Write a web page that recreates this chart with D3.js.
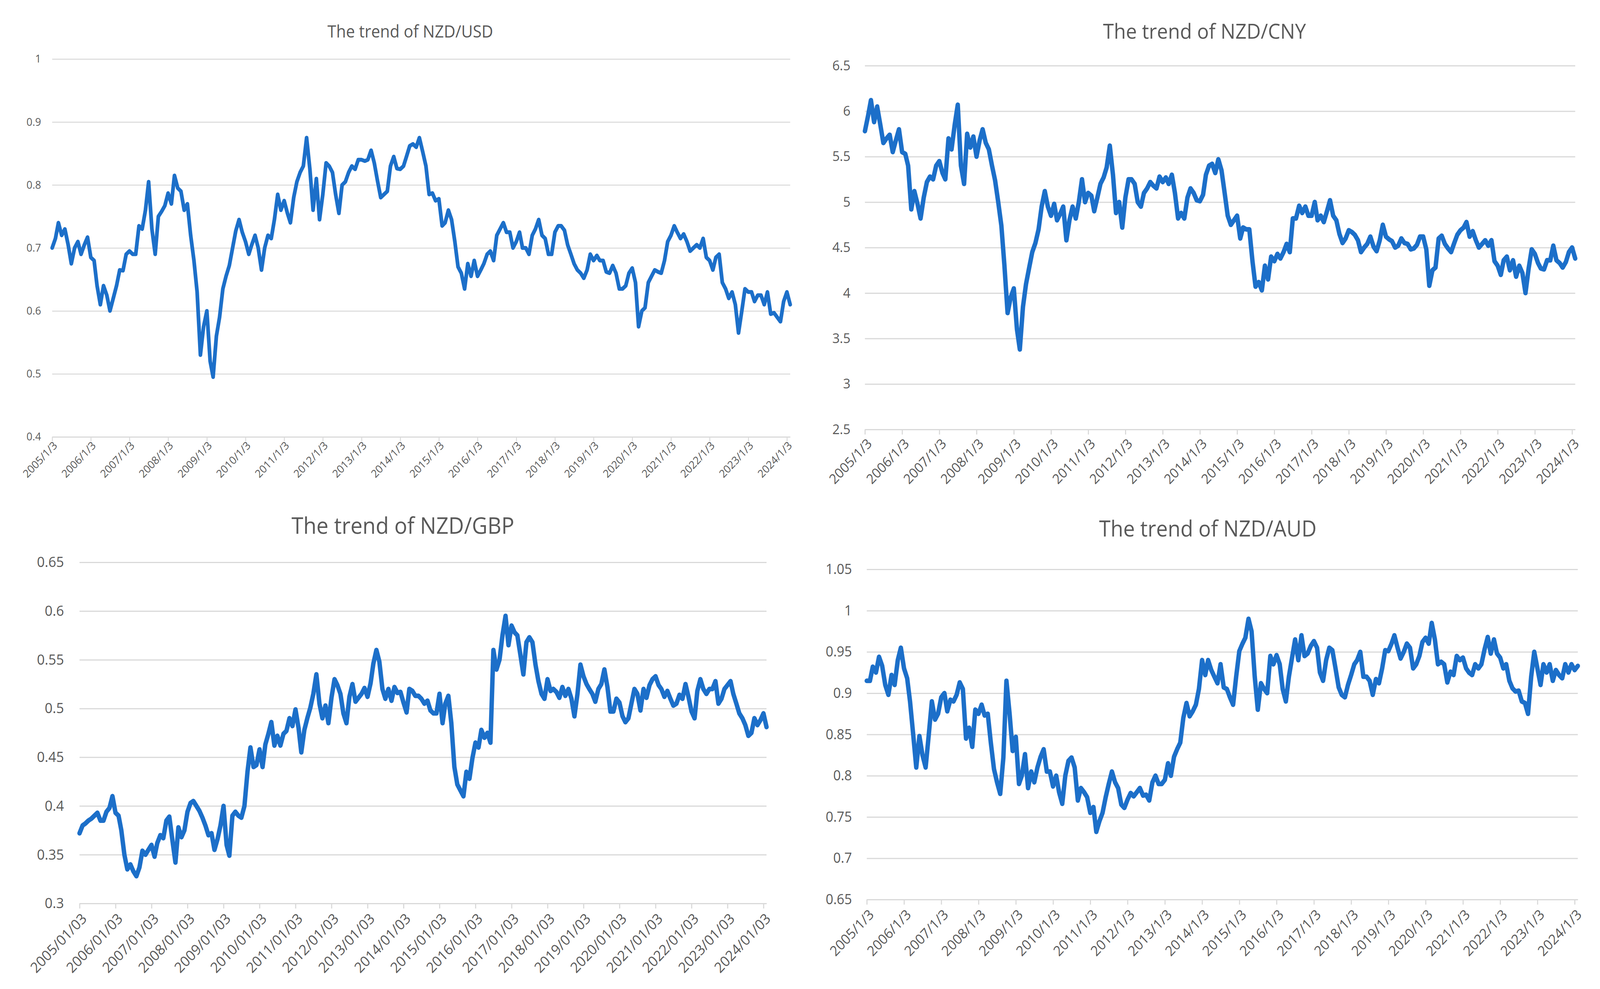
<!DOCTYPE html>
<html>
<head>
<meta charset="utf-8">
<script src="https://cdn.jsdelivr.net/npm/d3@7"></script>
<style>
  html, body { margin: 0; padding: 0; background: #ffffff; overflow: hidden; }
  svg { display: block; }
</style>
</head>
<body>
<div id="chart"></div>
<script>
// monthly readings, 2005/1/3 .. 2024/2/3
var usdValues = [
    0.70, 0.715, 0.74, 0.72, 0.73, 0.705, 0.675, 0.70, 0.71, 0.69, 0.705, 0.717,
    0.685, 0.68, 0.64, 0.61, 0.64, 0.625, 0.60, 0.62, 0.64, 0.665, 0.664, 0.69,
    0.695, 0.69, 0.69, 0.735, 0.73, 0.76, 0.805, 0.73, 0.69, 0.75, 0.758, 0.767,
    0.787, 0.77, 0.815, 0.795, 0.79, 0.76, 0.77, 0.72, 0.68, 0.63, 0.53, 0.575,
    0.60, 0.52, 0.495, 0.56, 0.59, 0.635, 0.655, 0.672, 0.70, 0.727, 0.745, 0.725,
    0.71, 0.69, 0.705, 0.72, 0.70, 0.665, 0.70, 0.72, 0.715, 0.745, 0.785, 0.76,
    0.775, 0.755, 0.74, 0.78, 0.805, 0.82, 0.83, 0.875, 0.825, 0.76, 0.81, 0.745,
    0.785, 0.835, 0.83, 0.82, 0.785, 0.755, 0.80, 0.805, 0.82, 0.83, 0.825, 0.84,
    0.84, 0.838, 0.84, 0.855, 0.835, 0.806, 0.78, 0.785, 0.79, 0.83, 0.845, 0.826,
    0.825, 0.83, 0.845, 0.862, 0.865, 0.86, 0.875, 0.853, 0.83, 0.785, 0.787, 0.775,
    0.778, 0.735, 0.74, 0.76, 0.745, 0.71, 0.67, 0.66, 0.635, 0.675, 0.655, 0.68,
    0.655, 0.665, 0.675, 0.69, 0.695, 0.68, 0.72, 0.73, 0.74, 0.725, 0.725, 0.70,
    0.71, 0.725, 0.70, 0.70, 0.69, 0.72, 0.73, 0.745, 0.72, 0.715, 0.69, 0.69,
    0.725, 0.735, 0.735, 0.728, 0.705, 0.69, 0.675, 0.665, 0.66, 0.652, 0.665, 0.69,
    0.68, 0.688, 0.68, 0.68, 0.662, 0.66, 0.672, 0.66, 0.635, 0.635, 0.64, 0.66,
    0.668, 0.645, 0.575, 0.60, 0.605, 0.645, 0.655, 0.665, 0.662, 0.66, 0.68, 0.71,
    0.72, 0.735, 0.725, 0.715, 0.722, 0.71, 0.695, 0.70, 0.705, 0.70, 0.715, 0.685,
    0.68, 0.665, 0.685, 0.69, 0.645, 0.635, 0.62, 0.63, 0.61, 0.565, 0.60, 0.635,
    0.63, 0.63, 0.615, 0.625, 0.625, 0.61, 0.63, 0.595, 0.597, 0.59, 0.583, 0.615,
    0.63, 0.61
];

var cnyValues = [
    5.78, 5.95, 6.12, 5.88, 6.05, 5.85, 5.65, 5.70, 5.74, 5.55, 5.68, 5.80,
    5.55, 5.53, 5.40, 4.92, 5.12, 4.98, 4.82, 5.05, 5.22, 5.28, 5.25, 5.40,
    5.45, 5.32, 5.25, 5.70, 5.58, 5.85, 6.07, 5.40, 5.20, 5.75, 5.60, 5.72,
    5.50, 5.68, 5.80, 5.65, 5.58, 5.40, 5.24, 5.00, 4.74, 4.30, 3.78, 3.95,
    4.05, 3.60, 3.38, 3.85, 4.10, 4.28, 4.45, 4.55, 4.70, 4.95, 5.12, 4.95,
    4.85, 4.98, 4.80, 4.87, 4.95, 4.58, 4.80, 4.95, 4.82, 5.00, 5.25, 5.00,
    5.10, 5.07, 4.90, 5.05, 5.20, 5.27, 5.38, 5.62, 5.30, 4.88, 5.00, 4.72,
    5.05, 5.25, 5.25, 5.20, 5.00, 4.95, 5.10, 5.15, 5.22, 5.18, 5.15, 5.28,
    5.22, 5.27, 5.20, 5.30, 5.10, 4.82, 4.88, 4.82, 5.05, 5.15, 5.10, 5.02,
    5.01, 5.08, 5.30, 5.40, 5.42, 5.32, 5.47, 5.35, 5.10, 4.85, 4.75, 4.80,
    4.85, 4.60, 4.72, 4.70, 4.70, 4.35, 4.07, 4.12, 4.03, 4.30, 4.15, 4.40,
    4.35, 4.43, 4.38, 4.45, 4.54, 4.45, 4.82, 4.82, 4.96, 4.88, 4.95, 4.85,
    4.85, 5.00, 4.80, 4.85, 4.78, 4.90, 5.02, 4.85, 4.80, 4.65, 4.55, 4.60,
    4.69, 4.67, 4.64, 4.58, 4.45, 4.50, 4.54, 4.62, 4.51, 4.46, 4.58, 4.75,
    4.62, 4.59, 4.57, 4.50, 4.52, 4.60, 4.55, 4.54, 4.48, 4.49, 4.53, 4.62,
    4.62, 4.48, 4.08, 4.25, 4.28, 4.60, 4.63, 4.54, 4.49, 4.45, 4.55, 4.64,
    4.69, 4.72, 4.78, 4.62, 4.68, 4.58, 4.50, 4.54, 4.58, 4.52, 4.58, 4.35,
    4.30, 4.20, 4.36, 4.40, 4.25, 4.36, 4.18, 4.30, 4.22, 4.00, 4.27, 4.48,
    4.43, 4.33, 4.27, 4.26, 4.36, 4.36, 4.52, 4.36, 4.33, 4.28, 4.34, 4.45,
    4.50, 4.38
];

var gbpValues = [
    0.372, 0.38, 0.382, 0.385, 0.387, 0.39, 0.393, 0.385, 0.385, 0.394, 0.398, 0.41,
    0.393, 0.39, 0.375, 0.35, 0.335, 0.34, 0.333, 0.328, 0.337, 0.354, 0.35, 0.355,
    0.36, 0.348, 0.362, 0.37, 0.367, 0.385, 0.389, 0.365, 0.342, 0.378, 0.368, 0.375,
    0.394, 0.403, 0.405, 0.40, 0.395, 0.388, 0.38, 0.37, 0.372, 0.355, 0.366, 0.38,
    0.40, 0.36, 0.349, 0.39, 0.394, 0.39, 0.388, 0.40, 0.435, 0.46, 0.44, 0.442,
    0.458, 0.44, 0.463, 0.474, 0.486, 0.462, 0.472, 0.462, 0.474, 0.477, 0.49, 0.482,
    0.499, 0.48, 0.455, 0.478, 0.49, 0.501, 0.515, 0.535, 0.505, 0.49, 0.503, 0.485,
    0.511, 0.53, 0.524, 0.515, 0.495, 0.485, 0.512, 0.525, 0.507, 0.511, 0.515, 0.521,
    0.512, 0.526, 0.546, 0.56, 0.548, 0.52, 0.51, 0.52, 0.508, 0.522, 0.516, 0.517,
    0.506, 0.496, 0.52, 0.518, 0.513, 0.513, 0.51, 0.505, 0.508, 0.498, 0.495, 0.495,
    0.515, 0.485, 0.505, 0.513, 0.485, 0.44, 0.422, 0.416, 0.41, 0.435, 0.428, 0.449,
    0.465, 0.46, 0.478, 0.47, 0.475, 0.465, 0.56, 0.54, 0.55, 0.575, 0.595, 0.565,
    0.585, 0.578, 0.575, 0.555, 0.535, 0.568, 0.573, 0.568, 0.545, 0.528, 0.515, 0.51,
    0.53, 0.518, 0.52, 0.517, 0.511, 0.522, 0.513, 0.52, 0.51, 0.492, 0.515, 0.545,
    0.533, 0.525, 0.52, 0.515, 0.507, 0.52, 0.525, 0.54, 0.522, 0.497, 0.497, 0.51,
    0.506, 0.492, 0.486, 0.49, 0.505, 0.52, 0.515, 0.498, 0.52, 0.511, 0.524, 0.53,
    0.533, 0.524, 0.52, 0.512, 0.518, 0.51, 0.503, 0.505, 0.514, 0.51, 0.525, 0.512,
    0.497, 0.49, 0.518, 0.53, 0.52, 0.515, 0.52, 0.52, 0.528, 0.505, 0.51, 0.52,
    0.524, 0.528, 0.515, 0.505, 0.495, 0.49, 0.483, 0.472, 0.475, 0.49, 0.483, 0.488,
    0.495, 0.481
];

var audValues = [
    0.915, 0.915, 0.932, 0.925, 0.944, 0.933, 0.91, 0.898, 0.922, 0.91, 0.94, 0.955,
    0.93, 0.918, 0.89, 0.85, 0.81, 0.848, 0.825, 0.81, 0.85, 0.89, 0.868, 0.875,
    0.895, 0.90, 0.878, 0.892, 0.89, 0.898, 0.913, 0.905, 0.845, 0.858, 0.835, 0.88,
    0.875, 0.886, 0.873, 0.875, 0.84, 0.808, 0.792, 0.778, 0.822, 0.915, 0.875, 0.83,
    0.847, 0.79, 0.80, 0.826, 0.785, 0.805, 0.792, 0.81, 0.823, 0.832, 0.805, 0.805,
    0.787, 0.80, 0.78, 0.766, 0.80, 0.818, 0.822, 0.81, 0.77, 0.785, 0.78, 0.774,
    0.755, 0.762, 0.732, 0.745, 0.755, 0.774, 0.79, 0.805, 0.792, 0.785, 0.765, 0.761,
    0.771, 0.779, 0.775, 0.78, 0.785, 0.776, 0.777, 0.77, 0.792, 0.80, 0.79, 0.79,
    0.795, 0.815, 0.80, 0.823, 0.832, 0.84, 0.87, 0.888, 0.872, 0.878, 0.886, 0.905,
    0.94, 0.922, 0.94, 0.928, 0.92, 0.912, 0.935, 0.907, 0.905, 0.895, 0.886, 0.92,
    0.951, 0.96, 0.967, 0.99, 0.975, 0.92, 0.88, 0.912, 0.905, 0.90, 0.945, 0.935,
    0.946, 0.935, 0.905, 0.89, 0.92, 0.943, 0.965, 0.94, 0.97, 0.945, 0.948, 0.957,
    0.963, 0.955, 0.925, 0.915, 0.94, 0.955, 0.952, 0.93, 0.907, 0.898, 0.895, 0.91,
    0.922, 0.935, 0.94, 0.95, 0.92, 0.92, 0.915, 0.898, 0.917, 0.912, 0.93, 0.952,
    0.951, 0.96, 0.97, 0.955, 0.942, 0.95, 0.96, 0.955, 0.93, 0.935, 0.945, 0.962,
    0.967, 0.96, 0.985, 0.965, 0.935, 0.938, 0.935, 0.913, 0.926, 0.922, 0.945, 0.94,
    0.943, 0.93, 0.925, 0.922, 0.935, 0.93, 0.935, 0.953, 0.968, 0.948, 0.965, 0.948,
    0.943, 0.93, 0.935, 0.915, 0.906, 0.902, 0.903, 0.89, 0.888, 0.875, 0.92, 0.95,
    0.93, 0.91, 0.935, 0.925, 0.935, 0.915, 0.928, 0.922, 0.918, 0.935, 0.925, 0.935,
    0.928, 0.933
];

// axis ticks
var tickYears = [2005, 2006, 2007, 2008, 2009, 2010, 2011, 2012, 2013, 2014,
                 2015, 2016, 2017, 2018, 2019, 2020, 2021, 2022, 2023, 2024];
var usdTicks = [0.4, 0.5, 0.6, 0.7, 0.8, 0.9, 1];
var cnyTicks = [2.5, 3, 3.5, 4, 4.5, 5, 5.5, 6, 6.5];
var gbpTicks = [0.3, 0.35, 0.4, 0.45, 0.5, 0.55, 0.6, 0.65];
var audTicks = [0.65, 0.7, 0.75, 0.8, 0.85, 0.9, 0.95, 1, 1.05];

var FONT = "'Open Sans', sans-serif";
var TEXT_COLOR = "#595959";
var GRID_COLOR = "#d9d9d9";
var LINE_COLOR = "#1c6fc9";

var startDate = new Date(2005, 0, 3);
var monthDates = usdValues.map(function (d, i) { return d3.timeMonth.offset(startDate, i); });
var tickDates = tickYears.map(function (y) { return new Date(y, 0, 3); });

// placement of each of the four charts on the 4325 x 2531 page
var panels = [
    { title: "The trend of NZD/USD", values: usdValues, ticks: usdTicks, dateFmt: "%Y/%-m/%-d",
      left: 141, right: 2136, top: 151, bottom: 1118,
      titleX: 1109, titleY: 96, titleSize: 43, labelSize: 28, yPad: 30,
      tickLen: 11, lx: 8, ly: 17, lineWidth: 10, grid: 2.5 },
    { title: "The trend of NZD/CNY", values: cnyValues, ticks: cnyTicks, dateFmt: "%Y/%-m/%-d",
      left: 2338, right: 4258, top: 168, bottom: 1099,
      titleX: 3256, titleY: 99, titleSize: 53, labelSize: 35, yPad: 39,
      tickLen: 13, lx: 12, ly: 30, lineWidth: 12, grid: 3 },
    { title: "The trend of NZD/GBP", values: gbpValues, ticks: gbpTicks, dateFmt: "%Y/%m/%d",
      left: 215, right: 2072, top: 1439, bottom: 2312,
      titleX: 1089, titleY: 1366, titleSize: 58, labelSize: 37, yPad: 42,
      tickLen: 13, lx: 12, ly: 32, lineWidth: 12, grid: 3 },
    { title: "The trend of NZD/AUD", values: audValues, ticks: audTicks, dateFmt: "%Y/%-m/%-d",
      left: 2343, right: 4265, top: 1457, bottom: 2302,
      titleX: 3265, titleY: 1373, titleSize: 56, labelSize: 36, yPad: 40,
      tickLen: 13, lx: 12, ly: 32, lineWidth: 12, grid: 3 }
];

// stretch the 4325 x 2531 drawing over the whole viewport
var svg = d3.select("#chart")
    .append("svg")
    .attr("viewBox", "0 0 4325 2531")
    .attr("preserveAspectRatio", "none")
    .style("width", "100vw")
    .style("height", "100vh")
    .style("background", "#ffffff");

function numLabel(d) {
    return String(+d.toFixed(2));
}

panels.forEach(function (p) {
    var series = p.values.map(function (v, i) {
        return { date: monthDates[i], value: v };
    });

    var xScale = d3.scaleTime()
        .domain([startDate, monthDates[monthDates.length - 1]])
        .range([p.left, p.right]);

    var yScale = d3.scaleLinear()
        .domain([p.ticks[0], p.ticks[p.ticks.length - 1]])
        .range([p.bottom, p.top]);

    var g = svg.append("g");

    // horizontal gridlines with the value labels
    var yAxis = g.append("g")
        .attr("transform", "translate(" + p.left + ",0)")
        .call(d3.axisLeft(yScale)
            .tickValues(p.ticks)
            .tickSize(-(p.right - p.left))
            .tickPadding(p.yPad)
            .tickFormat(numLabel))
        .attr("font-family", FONT)
        .attr("font-size", p.labelSize);
    yAxis.select(".domain").remove();
    yAxis.selectAll(".tick line")
        .attr("stroke", GRID_COLOR)
        .attr("stroke-width", p.grid);
    yAxis.selectAll(".tick text")
        .attr("fill", TEXT_COLOR);

    // date axis along the bottom
    var xAxis = g.append("g")
        .attr("transform", "translate(0," + p.bottom + ")")
        .call(d3.axisBottom(xScale)
            .tickValues(tickDates)
            .tickSize(p.tickLen)
            .tickSizeOuter(0)
            .tickFormat(d3.timeFormat(p.dateFmt)))
        .attr("font-family", FONT)
        .attr("font-size", p.labelSize);
    xAxis.select(".domain")
        .attr("stroke", GRID_COLOR)
        .attr("stroke-width", p.grid);
    xAxis.selectAll(".tick line")
        .attr("stroke", GRID_COLOR)
        .attr("stroke-width", p.grid);
    xAxis.selectAll(".tick text")
        .attr("fill", TEXT_COLOR)
        .attr("x", 0)
        .attr("y", 0)
        .attr("dy", "0.35em")
        .attr("text-anchor", "end")
        .attr("transform", "translate(" + p.lx + "," + p.ly + ") rotate(-45)");

    // the rate line
    var line = d3.line()
        .x(function (d) { return xScale(d.date); })
        .y(function (d) { return yScale(d.value); });

    g.append("path")
        .datum(series)
        .attr("d", line)
        .attr("fill", "none")
        .attr("stroke", LINE_COLOR)
        .attr("stroke-width", p.lineWidth)
        .attr("stroke-linejoin", "round")
        .attr("stroke-linecap", "round");

    // chart title
    g.append("text")
        .attr("x", p.titleX)
        .attr("y", p.titleY)
        .attr("text-anchor", "middle")
        .attr("font-family", FONT)
        .attr("font-size", p.titleSize)
        .attr("fill", TEXT_COLOR)
        .text(p.title);
});
</script>
</body>
</html>
